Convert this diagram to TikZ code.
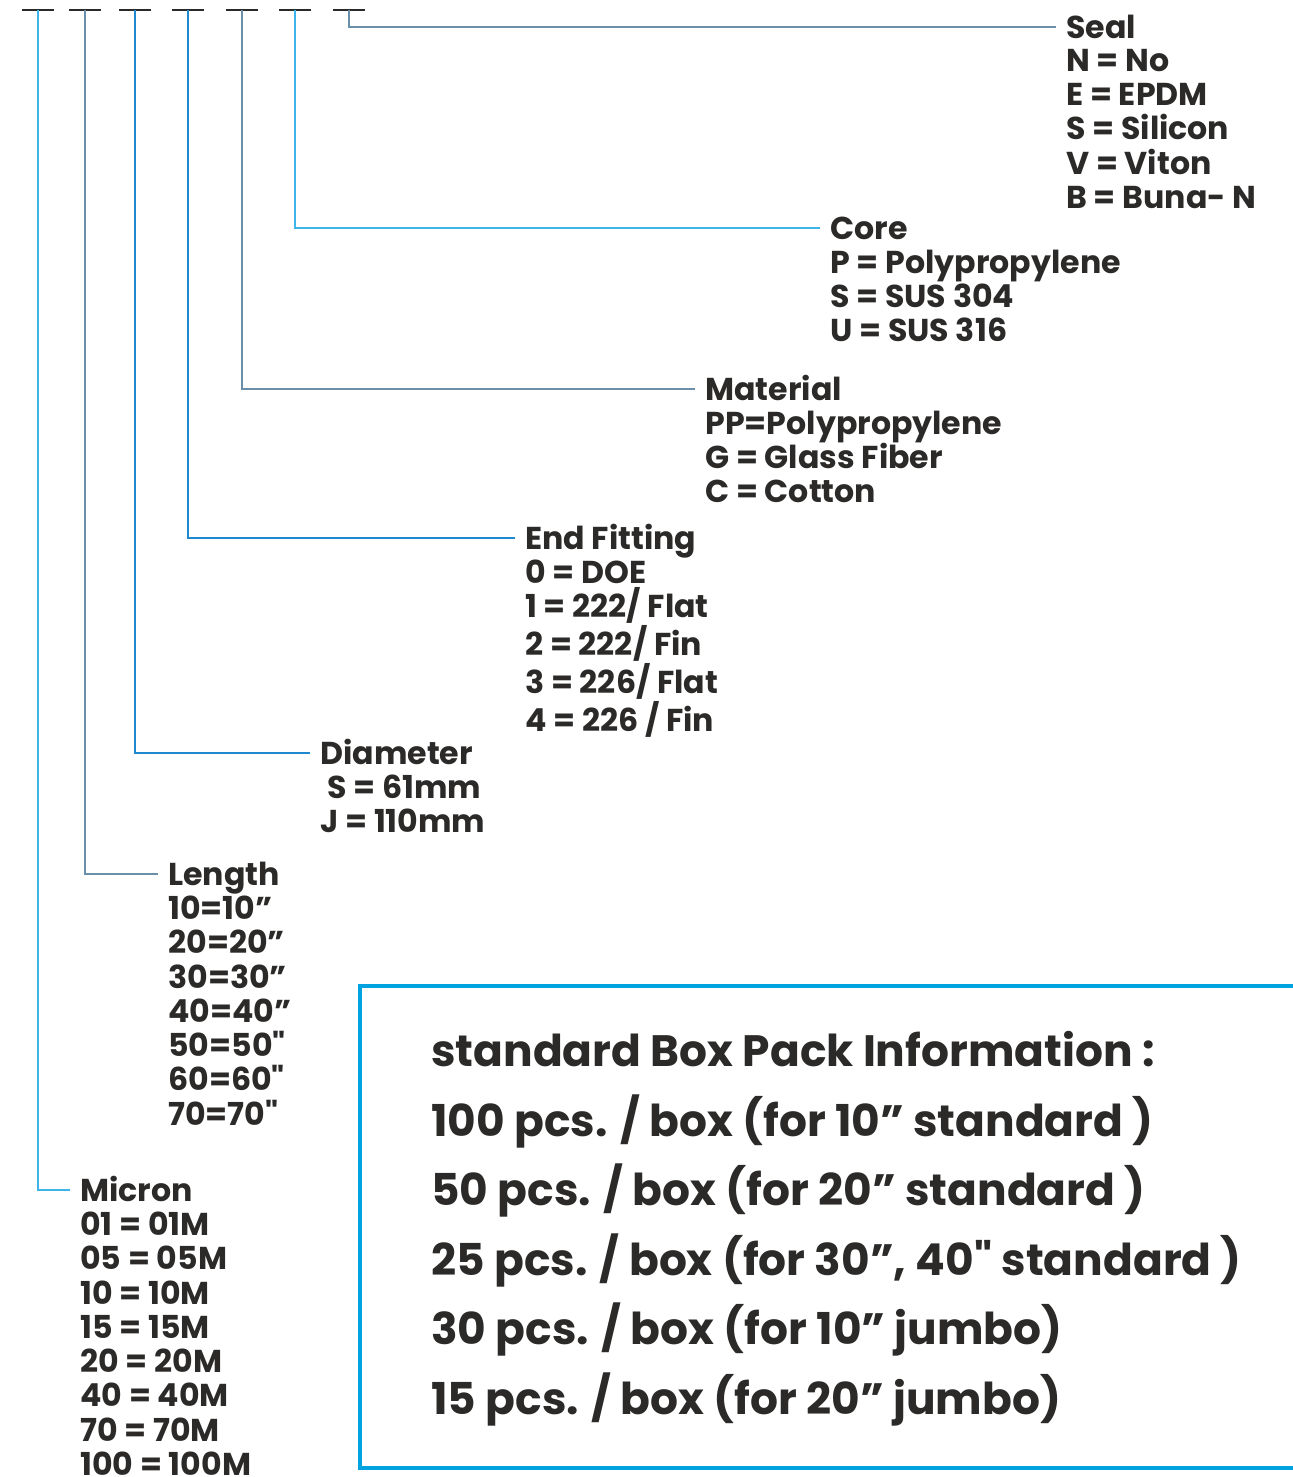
\documentclass[tikz,border=0pt]{standalone}
\usepackage{fontspec}
\newfontfamily\popfont{Poppins}
\usetikzlibrary{positioning}
\definecolor{inkgrey}{HTML}{2B2A29}
\definecolor{leadsky}{HTML}{3DB5EA}
\definecolor{leadsteel}{HTML}{6A8FA8}
\definecolor{leadmid}{HTML}{1F88CF}
\definecolor{boxblue}{HTML}{00A3E0}
\tikzset{
  slot/.style={draw=inkgrey, line width=1.1pt},
  lead/.style={line width=0.8pt},
  head/.style={font=\popfont\fontsize{18}{19.5}\selectfont\bfseries, text=inkgrey, anchor=west, inner xsep=0.2cm, inner ysep=0pt, text height=1.55em, text depth=0.2em},
  items/.style={font=\popfont\fontsize{18}{19.5}\selectfont\bfseries, text=inkgrey, align=left, inner xsep=0.2cm, inner ysep=0pt, below=3.4pt of #1, anchor=north west},
  packtxt/.style={font=\popfont\fontsize{25}{39.6}\selectfont\bfseries, text=inkgrey, align=left, anchor=north west, inner sep=0pt}
}
\begin{document}
\begin{tikzpicture}[x=0.02cm, y=-0.02cm]
    \useasboundingbox (0,0) rectangle (1293,1477);

    % code slots on top
    \foreach \i/\x in {1/38, 2/85, 3/135, 4/188, 5/242, 6/295, 7/349} {
        \coordinate (d\i) at (\x,10);
        \draw[slot] (\x-16,10) -- (\x+16,10);
    }

    % headings
    \node[head] (seal) at (1056,27) {Seal};
    \node[head] (core) at (820,228) {Core};
    \node[head] (material) at (695,389) {Material};
    \node[head] (fitting) at (515,538) {End Fitting};
    \node[head] (diameter) at (310,753) {Diameter};
    \node[head] (length) at (158,874) {Length};
    \node[head] (micron) at (70,1190) {Micron};

    % options below each heading
    \node[items=seal.south west] (sealopt) {N = No\\E = EPDM\\S = Silicon\\V = Viton\\B = Buna- N};
    \node[items=core.south west] (coreopt) {P = Polypropylene\\S = SUS 304\\U = SUS 316};
    \node[items=material.south west] (materialopt) {PP=Polypropylene\\G = Glass Fiber\\C = Cotton};
    \node[items=fitting.south west] (fittingopt) {0 = DOE\\1 = 222/ Flat\\2 = 222/ Fin\\3 = 226/ Flat\\4 = 226 / Fin};
    \node[items=diameter.south west] (diameteropt) {\hspace{4pt}S = 61mm\\J = 110mm};
    \node[items=length.south west] (lengthopt) {10=10”\\20=20”\\30=30”\\40=40”\\50=50"\\60=60"\\70=70"};
    \node[items=micron.south west] (micronopt) {01 = 01M\\05 = 05M\\10 = 10M\\15 = 15M\\20 = 20M\\40 = 40M\\70 = 70M\\100 = 100M};

    % leaders from slots to headings
    \draw[lead, leadsky] (d1) |- (micron.west);
    \draw[lead, leadsteel] (d2) |- (length.west);
    \draw[lead, leadmid] (d3) |- (diameter.west);
    \draw[lead, leadmid] (d4) |- (fitting.west);
    \draw[lead, leadsteel] (d5) |- (material.west);
    \draw[lead, leadsky] (d6) |- (core.west);
    \draw[lead, leadsteel] (d7) |- (seal.west);

    % box pack information
    \draw[boxblue, line width=2.8pt] (1293,986) -- (360,986) -- (360,1468) -- (1293,1468);
    \node[packtxt] (pack) at (431,1031) {standard Box Pack Information :\\
        100 pcs. / box (for 10” standard )\\
        50 pcs. / box (for 20” standard )\\
        25 pcs. / box (for 30”, 40" standard )\\
        30 pcs. / box (for 10” jumbo)\\
        15 pcs. / box (for 20” jumbo)};
\end{tikzpicture}
\end{document}
